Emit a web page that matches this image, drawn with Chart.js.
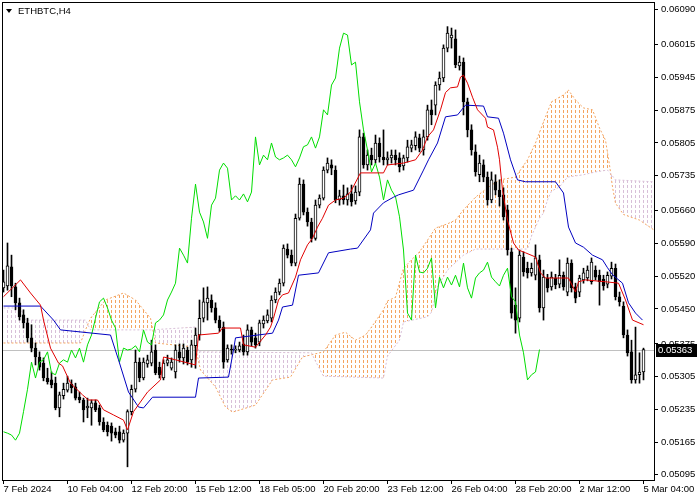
<!DOCTYPE html>
<html>
<head>
<meta charset="utf-8">
<script src="https://cdn.jsdelivr.net/npm/chart.js@4.4.1/dist/chart.umd.min.js"></script>
<style>
  html, body { margin: 0; padding: 0; background: #fff; }
  canvas { display: block; }
</style>
</head>
<body>
<canvas id="ichimokuChart" width="700" height="500"></canvas>
<script>
const symbolTitle = 'ETHBTC,H4';

// H4 candles, bar 0 = 7 Feb 2024 12:00
const open = [0.05495,0.05499,0.05540,0.05497,0.05463,0.05437,0.05420,0.05388,0.05366,0.05347,
  0.05334,0.05302,0.05298,0.05291,0.05238,0.05264,0.05276,0.05289,0.05283,0.05261,
  0.05255,0.05238,0.05238,0.05249,0.05238,0.05208,0.05201,0.05199,0.05187,0.05187,
  0.05169,0.05184,0.05230,0.05278,0.05336,0.05302,0.05332,0.05334,0.05362,0.05325,
  0.05302,0.05334,0.05323,0.05315,0.05358,0.05345,0.05362,0.05341,0.05371,0.05394,
  0.05430,0.05463,0.05469,0.05452,0.05426,0.05411,0.05341,0.05364,0.05362,0.05362,
  0.05375,0.05358,0.05405,0.05388,0.05379,0.05418,0.05424,0.05430,0.05469,0.05486,
  0.05505,0.05578,0.05565,0.05548,0.05644,0.05717,0.05657,0.05636,0.05601,0.05672,
  0.05687,0.05747,0.05758,0.05747,0.05683,0.05692,0.05683,0.05696,0.05681,0.05700,
  0.05818,0.05758,0.05779,0.05769,0.05805,0.05775,0.05769,0.05773,0.05779,0.05773,
  0.05756,0.05773,0.05794,0.05799,0.05816,0.05790,0.05818,0.05876,0.05886,0.05929,
  0.05944,0.06008,0.06030,0.06028,0.05970,0.05978,0.05893,0.05833,0.05786,0.05737,
  0.05758,0.05732,0.05683,0.05722,0.05704,0.05694,0.05662,0.05572,0.05458,0.05430,
  0.05561,0.05537,0.05527,0.05522,0.05555,0.05452,0.05516,0.05497,0.05516,0.05503,
  0.05522,0.05486,0.05548,0.05497,0.05486,0.05512,0.05516,0.05508,0.05533,0.05522,
  0.05514,0.05503,0.05520,0.05537,0.05476,0.05456,0.05394,0.05358,0.05298,0.05309,
  0.05315];
const high = [0.05533,0.05591,0.05565,0.05505,0.05473,0.05448,0.05430,0.05416,0.05377,0.05358,
  0.05345,0.05323,0.05315,0.05304,0.05272,0.05291,0.05306,0.05298,0.05291,0.05272,
  0.05259,0.05259,0.05255,0.05255,0.05244,0.05217,0.05208,0.05206,0.05195,0.05199,
  0.05191,0.05234,0.05287,0.05362,0.05345,0.05345,0.05351,0.05383,0.05373,0.05336,
  0.05341,0.05351,0.05345,0.05373,0.05375,0.05375,0.05368,0.05383,0.05409,0.05469,
  0.05495,0.05497,0.05480,0.05463,0.05435,0.05422,0.05373,0.05373,0.05371,0.05379,
  0.05394,0.05416,0.05411,0.05398,0.05426,0.05435,0.05448,0.05478,0.05495,0.05514,
  0.05587,0.05589,0.05576,0.05653,0.05730,0.05726,0.05666,0.05644,0.05683,0.05694,
  0.05754,0.05773,0.05769,0.05756,0.05704,0.05715,0.05709,0.05715,0.05713,0.05833,
  0.05826,0.05790,0.05794,0.05822,0.05816,0.05833,0.05786,0.05790,0.05790,0.05784,
  0.05779,0.05811,0.05811,0.05829,0.05824,0.05833,0.05886,0.05897,0.05936,0.05957,
  0.06015,0.06054,0.06051,0.06047,0.05991,0.05987,0.05901,0.05844,0.05801,0.05779,
  0.05769,0.05743,0.05743,0.05737,0.05726,0.05709,0.05672,0.05580,0.05495,0.05576,
  0.05572,0.05550,0.05548,0.05587,0.05565,0.05533,0.05524,0.05529,0.05524,0.05555,
  0.05529,0.05559,0.05555,0.05505,0.05522,0.05537,0.05542,0.05559,0.05542,0.05533,
  0.05522,0.05529,0.05550,0.05546,0.05486,0.05465,0.05405,0.05383,0.05411,0.05356,
  0.05366];
const low = [0.05486,0.05490,0.05476,0.05448,0.05426,0.05409,0.05379,0.05358,0.05330,0.05319,
  0.05296,0.05289,0.05281,0.05234,0.05219,0.05257,0.05272,0.05270,0.05255,0.05249,
  0.05208,0.05217,0.05201,0.05230,0.05201,0.05187,0.05178,0.05167,0.05174,0.05163,
  0.05165,0.05112,0.05223,0.05272,0.05294,0.05298,0.05325,0.05328,0.05309,0.05302,
  0.05298,0.05328,0.05319,0.05302,0.05336,0.05332,0.05330,0.05325,0.05323,0.05383,
  0.05422,0.05426,0.05443,0.05420,0.05401,0.05323,0.05336,0.05353,0.05356,0.05358,
  0.05351,0.05351,0.05371,0.05366,0.05371,0.05409,0.05420,0.05422,0.05463,0.05480,
  0.05499,0.05559,0.05542,0.05542,0.05640,0.05651,0.05627,0.05593,0.05597,0.05666,
  0.05683,0.05741,0.05737,0.05677,0.05672,0.05674,0.05672,0.05670,0.05674,0.05692,
  0.05751,0.05747,0.05758,0.05762,0.05764,0.05758,0.05758,0.05762,0.05758,0.05743,
  0.05747,0.05764,0.05786,0.05790,0.05786,0.05779,0.05811,0.05844,0.05865,0.05918,
  0.05936,0.06000,0.06008,0.05966,0.05961,0.05865,0.05818,0.05779,0.05734,0.05722,
  0.05722,0.05672,0.05677,0.05694,0.05670,0.05640,0.05565,0.05430,0.05398,0.05422,
  0.05520,0.05516,0.05520,0.05512,0.05443,0.05426,0.05486,0.05490,0.05493,0.05495,
  0.05490,0.05478,0.05486,0.05463,0.05476,0.05505,0.05510,0.05503,0.05512,0.05458,
  0.05490,0.05495,0.05514,0.05469,0.05456,0.05388,0.05349,0.05291,0.05291,0.05291,
  0.05298];
const close = [0.05508,0.05542,0.05499,0.05463,0.05433,0.05420,0.05388,0.05366,0.05347,0.05325,
  0.05302,0.05294,0.05287,0.05238,0.05266,0.05278,0.05291,0.05281,0.05259,0.05255,
  0.05234,0.05242,0.05249,0.05234,0.05208,0.05191,0.05187,0.05184,0.05180,0.05169,
  0.05184,0.05230,0.05278,0.05336,0.05302,0.05336,0.05341,0.05358,0.05313,0.05309,
  0.05334,0.05341,0.05336,0.05362,0.05345,0.05366,0.05336,0.05373,0.05394,0.05430,
  0.05465,0.05473,0.05452,0.05426,0.05409,0.05336,0.05366,0.05362,0.05364,0.05371,
  0.05358,0.05405,0.05379,0.05373,0.05420,0.05426,0.05437,0.05469,0.05486,0.05505,
  0.05580,0.05565,0.05548,0.05644,0.05717,0.05657,0.05636,0.05601,0.05672,0.05687,
  0.05747,0.05762,0.05751,0.05683,0.05692,0.05683,0.05696,0.05679,0.05700,0.05818,
  0.05758,0.05779,0.05769,0.05805,0.05775,0.05769,0.05773,0.05779,0.05769,0.05754,
  0.05773,0.05797,0.05801,0.05818,0.05794,0.05818,0.05876,0.05865,0.05929,0.05944,
  0.06008,0.06040,0.06036,0.05972,0.05978,0.05893,0.05833,0.05790,0.05743,0.05762,
  0.05732,0.05683,0.05726,0.05704,0.05690,0.05647,0.05576,0.05441,0.05426,0.05565,
  0.05529,0.05527,0.05537,0.05559,0.05452,0.05518,0.05495,0.05518,0.05501,0.05522,
  0.05497,0.05548,0.05495,0.05473,0.05516,0.05527,0.05533,0.05550,0.05518,0.05508,
  0.05499,0.05522,0.05537,0.05476,0.05465,0.05394,0.05356,0.05298,0.05309,0.05315,
  0.05363];

// indicator lines as [bar, price] vertices
const tenkan = [[0,0.05476],[4.25,0.05512],[6.75,0.05484],[9.25,0.05458],[10,0.05426],[11.75,0.05366],
  [13.75,0.05334],[14.75,0.05328],[16.75,0.05291],[19.75,0.05266],[21.25,0.05255],[23.5,0.05255],
  [25,0.05234],[27.5,0.05223],[30,0.05212],[31,0.05191],[32.5,0.05230],[36,0.05272],[39.25,0.05298],
  [40,0.05347],[43,0.05341],[48,0.05330],[48.75,0.05394],[53.75,0.05398],[54.75,0.05409],[59.25,0.05409],
  [60,0.05373],[63,0.05368],[65.5,0.05394],[66.75,0.05411],[67.5,0.05430],[68.75,0.05469],[69.75,0.05480],
  [71.25,0.05484],[73,0.05518],[74.25,0.05555],[76,0.05587],[77.25,0.05601],[78.5,0.05625],[79.75,0.05644],
  [81.25,0.05672],[83,0.05683],[85,0.05687],[86.75,0.05700],[89.25,0.05741],[95,0.05741],[96,0.05758],
  [100,0.05762],[103,0.05769],[104.75,0.05790],[106,0.05818],[107.5,0.05833],[109.25,0.05876],[110.5,0.05913],
  [111.75,0.05923],[113.5,0.05925],[114.25,0.05946],[115,0.05950],[116,0.05933],[117.25,0.05903],
  [118.5,0.05876],[120.5,0.05858],[121,0.05839],[122.5,0.05833],[123.5,0.05796],[124,0.05769],
  [124.75,0.05704],[126,0.05640],[127.5,0.05591],[128.75,0.05576],[130.5,0.05570],[133,0.05561],
  [134.25,0.05527],[135.5,0.05516],[141.25,0.05516],[143,0.05486],[143.75,0.05508],[145.5,0.05512],
  [150.5,0.05508],[153.75,0.05505],[155.5,0.05469],[157.25,0.05426],[160,0.05416]];
const kijun = [[0,0.05456],[9.25,0.05456],[12.5,0.05426],[14.25,0.05405],[26.75,0.05394],[28.75,0.05341],
  [31.25,0.05272],[33.75,0.05240],[35,0.05238],[37.25,0.05261],[48,0.05261],[48.75,0.05302],[56.25,0.05304],
  [57.5,0.05362],[58,0.05388],[67.25,0.05398],[68.75,0.05426],[69.75,0.05454],[72.25,0.05458],[73.75,0.05522],
  [78.75,0.05527],[81.25,0.05570],[86.75,0.05578],[88.5,0.05580],[91.75,0.05619],[92.5,0.05655],[95,0.05677],
  [97.5,0.05689],[98.75,0.05694],[102.5,0.05704],[105,0.05747],[106.25,0.05769],[108.5,0.05805],
  [110.5,0.05861],[113.5,0.05865],[115.5,0.05886],[120,0.05884],[121,0.05861],[123.75,0.05858],
  [125,0.05826],[126.75,0.05769],[128.5,0.05726],[130.5,0.05722],[138,0.05722],[140,0.05698],
  [141.25,0.05625],[143,0.05591],[145,0.05582],[147.25,0.05565],[149.75,0.05555],[151,0.05538],
  [152.25,0.05523],[154.75,0.05505],[156.25,0.05463],[158,0.05441],[159.75,0.05426]];
const spanA = [[0,0.05377],[19.25,0.05377],[20.5,0.05405],[21.75,0.05430],[25.5,0.05469],[30,0.05484],
  [33,0.05469],[36.75,0.05430],[38,0.05377],[48,0.05368],[49.25,0.05319],[53,0.05283],[55.5,0.05240],
  [57.25,0.05229],[63,0.05244],[67.25,0.05298],[71.75,0.05304],[74.75,0.05347],[80,0.05358],[83,0.05394],
  [85.5,0.05400],[88,0.05383],[90.5,0.05394],[92,0.05411],[95,0.05448],[96,0.05467],[98,0.05475],
  [100,0.05537],[102,0.05555],[104,0.05572],[106,0.05597],[108,0.05623],[111,0.05632],[113,0.05640],
  [115,0.05662],[118,0.05689],[121,0.05709],[124,0.05726],[128,0.05732],[131,0.05769],[133,0.05805],
  [135,0.05850],[137,0.05893],[140,0.05908],[141.25,0.05918],[143,0.05897],[145,0.05880],[147.25,0.05876],
  [149,0.05837],[150.5,0.05811],[151.5,0.05758],[152.25,0.05711],[153,0.05676],[155,0.05652],
  [159,0.05640],[162.6,0.05619]];
const spanB = [[0,0.05452],[4.25,0.05452],[5.5,0.05426],[20.5,0.05426],[21.75,0.05405],[36.75,0.05405],
  [48,0.05411],[48.75,0.05358],[77,0.05356],[78,0.05338],[80,0.05306],[95,0.05302],[96,0.05349],
  [99,0.05383],[100,0.05422],[106,0.05433],[107,0.05443],[108.5,0.05497],[111,0.05533],[115,0.05565],
  [118,0.05578],[131,0.05578],[132,0.05606],[134,0.05644],[135,0.05655],[136,0.05683],[137,0.05702],
  [139,0.05711],[141,0.05732],[145,0.05737],[148,0.05743],[151,0.05747],[152,0.05737],[153,0.05726],
  [162.6,0.05722]];

const chikouShift = 26;
const timeTickBars = [0, 16, 32, 48, 64, 80, 96, 112, 128, 144, 160];
const timeLabels = ['7 Feb 2024', '10 Feb 04:00', '12 Feb 20:00', '15 Feb 12:00', '18 Feb 05:00',
  '20 Feb 20:00', '23 Feb 12:00', '26 Feb 04:00', '28 Feb 20:00', '2 Mar 12:00', '5 Mar 04:00'];
const priceTicks = [0.05095, 0.05165, 0.05235, 0.05305, 0.05375, 0.05450, 0.05520, 0.05590,
  0.05660, 0.05735, 0.05805, 0.05875, 0.05945, 0.06015, 0.06090];

const lastPrice = close[close.length - 1];
const canvas = document.getElementById('ichimokuChart');
const ctx = canvas.getContext('2d');

// vertical dotted hatch, one column every bar (4px)
function hatch(color) {
  const c = document.createElement('canvas');
  c.width = 4; c.height = 5;
  const g = c.getContext('2d');
  g.fillStyle = color;
  g.fillRect(3, 0, 1, 3);
  return ctx.createPattern(c, 'repeat');
}
const sandyHatch = hatch('#f4a460');
const thistleHatch = hatch('#d8bfd8');

const pts = arr => arr.map(([x, y]) => ({ x, y }));

const mtPlugin = {
  id: 'mtDecor',
  beforeDatasetsDraw(chart) {
    const { ctx, chartArea, scales: { y } } = chart;
    const py = Math.round(y.getPixelForValue(lastPrice)) + 0.5;
    ctx.save();
    ctx.strokeStyle = '#c0c0c0';
    ctx.lineWidth = 1;
    ctx.beginPath();
    ctx.moveTo(chartArea.left, py);
    ctx.lineTo(chartArea.right, py);
    ctx.stroke();
    ctx.restore();
  },
  afterDraw(chart) {
    const { ctx, chartArea, scales: { y } } = chart;
    ctx.save();
    ctx.strokeStyle = '#000';
    ctx.lineWidth = 1;
    ctx.strokeRect(chartArea.left + 0.5, chartArea.top + 0.5,
      chartArea.right - chartArea.left, chartArea.bottom - chartArea.top);

    // symbol caption
    ctx.fillStyle = '#000';
    ctx.beginPath();
    ctx.moveTo(6, 9); ctx.lineTo(12, 9); ctx.lineTo(9, 13); ctx.closePath();
    ctx.fill();
    ctx.font = '9.5px "Liberation Sans", Arial, sans-serif';
    ctx.textBaseline = 'middle';
    ctx.fillText(symbolTitle, 18, 11);

    // last price box
    const py = Math.round(y.getPixelForValue(lastPrice));
    ctx.fillStyle = '#000';
    ctx.fillRect(chartArea.right + 2, py - 6, 41, 13);
    ctx.fillStyle = '#fff';
    ctx.fillText(lastPrice.toFixed(5), chartArea.right + 4, py + 0.5);
    ctx.restore();
  }
};

Chart.defaults.font.family = '"Liberation Sans", Arial, sans-serif';
Chart.defaults.font.size = 9.5;
Chart.defaults.color = '#000';

new Chart(ctx, {
  type: 'bar',
  data: {
    datasets: [
      {
        type: 'line', label: 'Tenkan-sen', data: pts(tenkan),
        borderColor: '#e00000', borderWidth: 1, pointRadius: 0, order: 0
      },
      {
        type: 'line', label: 'Kijun-sen', data: pts(kijun),
        borderColor: '#0000c0', borderWidth: 1, pointRadius: 0, order: 1
      },
      {
        type: 'line', label: 'Chikou Span',
        data: close.slice(chikouShift).map((c, i) => ({ x: i, y: c })),
        borderColor: '#00dd00', borderWidth: 1, pointRadius: 0, order: 2
      },
      {
        label: 'Bodies',
        data: close.map((c, i) => ({ x: i, y: [open[i], c] })),
        backgroundColor: close.map((c, i) => c >= open[i] ? '#ffffff' : '#000000'),
        borderColor: '#000', borderWidth: 1, borderSkipped: false,
        barThickness: 3, minBarLength: 1, grouped: false, order: 3
      },
      {
        label: 'Wicks',
        data: close.map((c, i) => ({ x: i, y: [low[i], high[i]] })),
        backgroundColor: '#000', borderWidth: 0,
        barThickness: 1, grouped: false, order: 4
      },
      {
        type: 'line', label: 'Senkou Span B', data: pts(spanB),
        borderColor: '#d8bfd8', borderWidth: 1, borderDash: [2, 2], pointRadius: 0, order: 5
      },
      {
        type: 'line', label: 'Senkou Span A', data: pts(spanA),
        borderColor: '#f4a460', borderWidth: 1, borderDash: [2, 2], pointRadius: 0, order: 6,
        fill: { target: 5, above: sandyHatch, below: thistleHatch }
      }
    ]
  },
  options: {
    responsive: false,
    animation: false,
    layout: { padding: { left: 2, top: 2, right: 0, bottom: 0 } },
    plugins: {
      legend: { display: false },
      title: { display: false },
      tooltip: { enabled: false }
    },
    scales: {
      x: {
        type: 'linear',
        min: -0.375,
        max: 162.625,
        offset: false,
        grid: { display: true, drawOnChartArea: false, drawTicks: true, tickLength: 4, color: '#000', offset: false },
        border: { display: true, color: '#000' },
        ticks: {
          autoSkip: false, maxRotation: 0, align: 'start', padding: 0,
          callback: (v, i) => timeLabels[i]
        },
        afterBuildTicks: s => { s.ticks = timeTickBars.map(v => ({ value: v })); },
        afterFit: s => { s.height = 20; s.paddingLeft = 0; s.paddingRight = 0; }
      },
      y: {
        position: 'right',
        min: 0.050838,
        max: 0.061067,
        grid: { display: true, drawOnChartArea: false, drawTicks: true, tickLength: 4, color: '#000' },
        border: { display: true, color: '#000' },
        ticks: { padding: 3, callback: v => v.toFixed(5) },
        afterBuildTicks: s => { s.ticks = priceTicks.map(v => ({ value: v })); },
        afterFit: s => { s.width = 46; s.paddingTop = 0; s.paddingBottom = 0; }
      }
    }
  },
  plugins: [mtPlugin]
});
</script>
</body>
</html>
